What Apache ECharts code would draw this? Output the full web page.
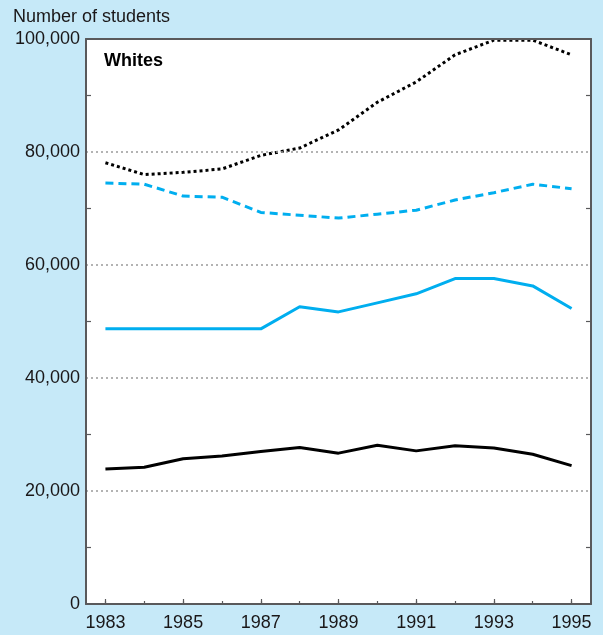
<!DOCTYPE html>
<html>
<head>
<meta charset="utf-8">
<script src="https://cdn.jsdelivr.net/npm/echarts@6/dist/echarts.min.js"></script>
<style>
html,body{margin:0;padding:0;background:#c6e9f8;}
#chart{width:603px;height:635px;}
</style>
</head>
<body>
<div id="chart"></div>
<script>
const years = ['1983','1984','1985','1986','1987','1988','1989','1990','1991','1992','1993','1994','1995'];
const dottedBlack = [78100, 76000, 76400, 77000, 79400, 80700, 83900, 88800, 92400, 97200, 99800, 99800, 97200];
const dashedBlue  = [74500, 74300, 72200, 72000, 69300, 68800, 68300, 69000, 69700, 71500, 72800, 74300, 73500];
const solidBlue   = [48700, 48700, 48700, 48700, 48700, 52600, 51700, 53300, 54900, 57600, 57600, 56300, 52300];
const solidBlack  = [23900, 24200, 25700, 26200, 27000, 27700, 26700, 28100, 27100, 28000, 27600, 26500, 24500];
const yTicks = [0, 20000, 40000, 60000, 80000, 100000];
const yTitle = 'Number of students';
const panelTitle = 'Whites';

const FONT = '"Liberation Sans", Arial, Helvetica, sans-serif';
const TXT = '#1a1718';
const AX = '#59595b';
const BLUE = '#00aeef';

const chart = echarts.init(document.getElementById('chart'), null, {renderer: 'canvas'});
chart.setOption({
  backgroundColor: '#c6e9f8',
  animation: false,
  grid: {left: 86, right: 12, top: 39, bottom: 31, show: true, backgroundColor: '#ffffff', borderWidth: 0},
  graphic: [
    {type: 'text', left: 13, top: 8, style: {text: yTitle, font: '18px ' + FONT, fill: TXT, letterSpacing: 0.4}},
    {type: 'text', left: 104, top: 52, z: 10, style: {text: panelTitle, font: 'bold 18px ' + FONT, fill: '#000'}}
  ],
  xAxis: [
    {type: 'category', data: years, position: 'bottom', z: 5,
     axisLine: {show: true, lineStyle: {color: AX, width: 2}},
     axisTick: {show: true, inside: true, alignWithLabel: true, interval: 1, length: 5, lineStyle: {color: AX, width: 1.2}},
     axisLabel: {interval: 1, margin: 10, color: TXT, fontSize: 18, fontFamily: FONT},
     splitLine: {show: false}},
    {type: 'category', data: years, position: 'bottom', z: 4,
     axisLine: {show: false},
     axisTick: {show: true, inside: true, alignWithLabel: true, interval: 0, length: 3, lineStyle: {color: AX, width: 1.2}},
     axisLabel: {show: false}, splitLine: {show: false}},
    {type: 'category', data: years, position: 'top', z: 5,
     axisLine: {show: true, lineStyle: {color: AX, width: 2}},
     axisTick: {show: false}, axisLabel: {show: false}, splitLine: {show: false}}
  ],
  yAxis: [
    {type: 'value', min: yTicks[0], max: yTicks[yTicks.length-1], interval: 20000, position: 'left', z: 5,
     axisLine: {show: true, lineStyle: {color: AX, width: 2}},
     axisTick: {show: false, inside: true},
     minorTick: {show: true, splitNumber: 2, length: 5, lineStyle: {color: AX, width: 1.2}},
     axisLabel: {margin: 6, color: TXT, fontSize: 18, fontFamily: FONT,
       formatter: v => v.toLocaleString('en-US')},
     splitLine: {show: true, lineStyle: {color: '#9a9a9a', width: 1.5, type: [2, 3]}}},
    {type: 'value', min: yTicks[0], max: yTicks[yTicks.length-1], interval: 20000, position: 'right', z: 5,
     axisLine: {show: true, lineStyle: {color: AX, width: 2}},
     axisTick: {show: false, inside: true},
     minorTick: {show: true, splitNumber: 2, length: 5, lineStyle: {color: AX, width: 1.2}},
     axisLabel: {show: false}, splitLine: {show: false}}
  ],
  series: [
    {type: 'line', data: dottedBlack, symbol: 'none', z: 3,
     lineStyle: {color: '#000', width: 3, type: [3, 3]}},
    {type: 'line', data: dashedBlue, symbol: 'none', z: 3,
     lineStyle: {color: BLUE, width: 3, type: [8, 5]}},
    {type: 'line', data: solidBlue, symbol: 'none', z: 3,
     lineStyle: {color: BLUE, width: 3}},
    {type: 'line', data: solidBlack, symbol: 'none', z: 3,
     lineStyle: {color: '#000', width: 3}}
  ]
});
</script>
</body>
</html>
